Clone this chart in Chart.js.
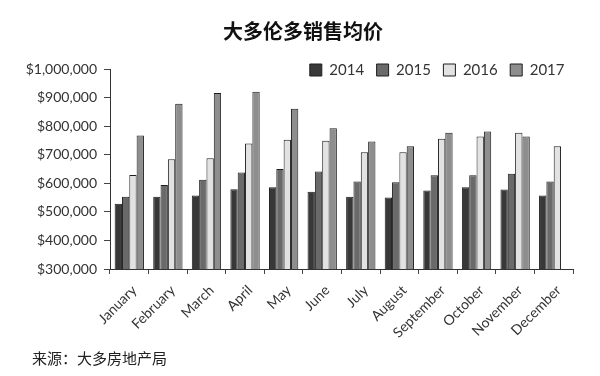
<!DOCTYPE html>
<html><head><meta charset="utf-8">
<script src="https://cdn.jsdelivr.net/npm/chart.js@4/dist/chart.umd.min.js"></script>
<style>
html,body{margin:0;padding:0;background:#fff;}
#wrap{position:relative;width:600px;height:376px;overflow:hidden;}
#title{position:absolute;left:0;top:18px;width:606px;text-align:center;font:bold 20px "Noto Sans CJK SC",sans-serif;color:#111;line-height:26px;}
#src{position:absolute;left:32px;top:348px;font:15px "Noto Sans CJK SC",sans-serif;color:#222;line-height:20px;}
canvas{position:absolute;left:0;top:0;}
</style></head>
<body><div id="wrap"><canvas id="c" width="600" height="376"></canvas><div id="title">大多伦多销售均价</div><div id="src">来源：大多房地产局</div></div>
<script>
const months = ["January","February","March","April","May","June","July","August","September","October","November","December"];
const years = ["2014","2015","2016","2017"];
const s2014 = [528000,553000,557000,579000,586000,570000,553000,550000,575000,586000,578000,557000];
const s2015 = [553000,594000,612000,638000,650000,641000,606000,604000,628000,628000,633000,606000];
const s2016 = [629000,684000,688000,739000,752000,749000,709000,709000,756000,764000,777000,730000];
const s2017 = [767000,878000,916000,920000,861000,793000,746000,730000,777000,781000,764000,null];
const yTicks = [300000,400000,500000,600000,700000,800000,900000,1000000];

const fills = ["#383838","#6a6a6a","#e2e2e2","#8e8e8e"];
const series = [s2014,s2015,s2016,s2017];

const LEG_PAD = 12.5, LEG_FONT = 15;
const legendShift = {
  id: 'legendShift',
  afterLayout(chart) {
    const l = chart.legend;
    if (!l) return;
    const dy = (70 - LEG_PAD - LEG_FONT / 2) - l.top;
    l.top += dy; l.bottom += dy;
    l.left += 4; l.right += 4;
  }
};

new Chart(document.getElementById('c'), {
  type: 'bar',
  data: {
    labels: months,
    datasets: years.map((y, i) => ({
      label: y,
      data: series[i],
      backgroundColor: fills[i],
      borderColor: '#1e1e1e',
      borderWidth: 1,
      barPercentage: 1.0,
      categoryPercentage: 0.76
    }))
  },
  options: {
    responsive: false,
    animation: false,
    layout: { padding: { top: 69 - (LEG_FONT + LEG_PAD + 10), right: 27, left: 0, bottom: 0 } },
    plugins: {
      title: { display: false },
      tooltip: { enabled: false },
      legend: {
        position: 'top', align: 'end',
        labels: {
          boxWidth: 12, boxHeight: 12, padding: LEG_PAD,
          color: '#333', font: { family: 'Lato', size: LEG_FONT }
        }
      }
    },
    scales: {
      x: {
        grid: { drawOnChartArea: false, drawTicks: true, tickLength: 5, color: '#444', offset: true },
        border: { color: '#333', width: 1 },
        ticks: { minRotation: 45, maxRotation: 45, autoSkip: false, padding: 8, labelOffset: 5, color: '#333', font: { family: 'Lato', size: 14 } },
        afterFit(s) { s.height = 107; }
      },
      y: {
        min: 300000, max: 1000000,
        afterBuildTicks(s) { s.ticks = yTicks.map(v => ({ value: v })); },
        grid: { drawOnChartArea: false, drawTicks: true, tickLength: 6, color: '#444' },
        border: { color: '#333', width: 1 },
        ticks: { padding: 7, color: '#333', font: { family: 'Lato', size: 14 },
          callback: v => '$' + Number(v).toLocaleString('en-US') },
        afterFit(s) { s.width = 110; }
      }
    }
  },
  plugins: [legendShift]
});
</script>
</body></html>
